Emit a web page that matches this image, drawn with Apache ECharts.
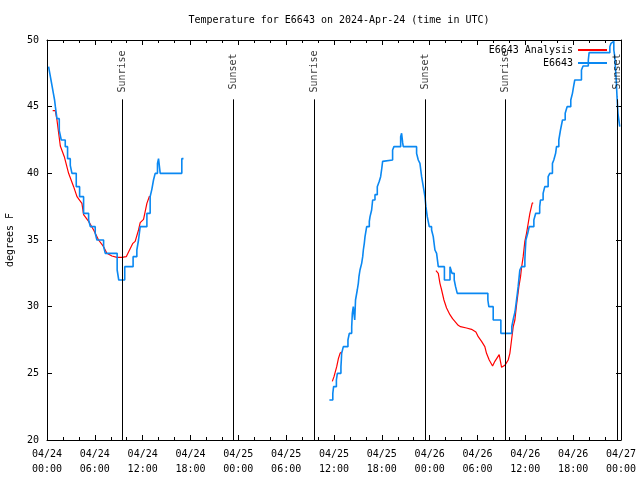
<!DOCTYPE html>
<html><head><meta charset="utf-8">
<script src="https://cdn.jsdelivr.net/npm/echarts@6/dist/echarts.min.js"></script>
<style>html,body{margin:0;padding:0;background:#fff}#c{width:640px;height:480px}</style>
</head><body><div id="c"></div>
<script>
// hours since 2024-04-24 00:00 UTC
const tickLabels = ['04/24\n00:00','04/24\n06:00','04/24\n12:00','04/24\n18:00','04/25\n00:00','04/25\n06:00','04/25\n12:00','04/25\n18:00','04/26\n00:00','04/26\n06:00','04/26\n12:00','04/26\n18:00','04/27\n00:00'];
const sunTimes = [9.44, 23.35, 33.5, 47.44, 57.47, 71.5];
const sunNames = ['Sunrise','Sunset','Sunrise','Sunset','Sunrise','Sunset'];
const analysisSeg1 = [[0.71,44.7],[1.04,44.7],[1.25,44.0],[1.67,42.05],[2.17,41.25],[2.71,40.0],[3.34,39.0],[3.76,38.25],[4.38,37.75],[4.59,36.9],[5.22,36.4],[5.85,35.75],[6.47,35.0],[7.1,34.5],[7.51,34.0],[8.14,33.8],[8.77,33.7],[9.4,33.7],[9.94,33.75],[10.23,34.1],[10.77,34.75],[11.06,34.9],[11.48,35.75],[11.69,36.3],[12.11,36.55],[12.53,37.75],[12.86,38.3]];
const analysisSeg2 = [[35.79,24.4],[36.0,24.75],[36.34,25.5],[36.55,26.1],[36.76,26.5],[36.96,26.6]];
const analysisSeg3 = [[48.79,32.7],[48.87,32.6],[49.08,32.5],[49.29,31.75],[49.5,31.25],[49.79,30.5],[50.12,29.9],[50.54,29.4],[50.87,29.1],[51.16,28.9],[51.58,28.6],[51.87,28.5],[52.62,28.4],[53.25,28.3],[53.8,28.1],[54.09,27.75],[54.51,27.4],[54.92,27.0],[55.13,26.5],[55.47,26.0],[55.89,25.55],[56.18,25.9],[56.72,26.4],[56.85,26.45],[57.02,25.45],[57.43,25.6],[57.85,26.0],[58.06,26.5],[58.27,27.5],[58.48,28.5],[58.69,29.0],[58.89,30.1],[59.19,31.5],[59.4,32.25],[59.52,32.9],[59.73,33.75],[59.94,34.9],[60.15,35.5],[60.36,36.25],[60.57,37.0],[60.86,37.75],[60.99,37.8]];
const obsSeg1 = [[0.2,48.0],[0.35,47.5],[0.5,47.0],[0.65,46.5],[0.8,46.0],[0.95,45.5],[1.05,45.0],[1.25,44.1],[1.54,43.2],[1.79,42.5],[2.29,42.0],[2.58,41.1],[2.92,40.6],[3.13,40.0],[3.67,39.0],[4.09,38.25],[4.59,37.0],[5.22,36.5],[5.43,36.0],[6.05,35.5],[6.26,35.0],[7.1,34.5],[7.31,34.0],[8.8,32.75],[9.0,32.0],[9.75,33.0],[10.8,33.75],[11.27,34.25],[11.48,35.0],[11.69,36.0],[12.53,37.0],[12.94,38.25],[13.15,38.8],[13.36,39.5],[13.57,40.0],[13.86,40.75],[13.99,41.1],[14.2,40.0],[16.91,41.1],[17.12,41.1]];
const obsSeg2 = [[35.42,23.0],[35.85,23.5],[35.95,24.0],[36.3,24.5],[36.42,25.0],[36.87,25.5],[36.92,26.0],[36.96,26.5],[37.17,27.0],[37.75,27.5],[37.92,28.0],[38.22,28.5],[38.3,29.5],[38.42,30.0],[38.5,29.5],[38.6,29.0],[38.7,30.5],[38.92,31.25],[39.05,31.75],[39.13,32.25],[39.26,32.75],[39.47,33.25],[39.6,33.75],[39.68,34.25],[39.8,34.75],[39.89,35.25],[40.1,36.0],[40.43,36.4],[40.52,36.75],[40.72,37.25],[40.85,38.0],[41.14,38.4],[41.43,39.0],[41.68,39.4],[41.85,39.75],[42.0,40.4],[42.1,40.9],[42.18,41.0],[43.35,41.75],[43.52,42.0],[44.36,42.75],[44.48,43.0],[44.61,42.3],[44.69,42.0],[46.36,41.5],[46.57,41.0],[46.78,40.75],[46.99,39.75],[47.2,39.0],[47.41,38.25],[47.53,37.5],[47.7,36.75],[47.95,36.0],[48.24,35.75],[48.45,35.25],[48.66,34.25],[48.87,34.0],[49.08,33.0],[49.85,32.0],[50.55,33.0],[50.8,32.5],[51.08,32.0],[51.25,31.5],[51.46,31.0],[55.3,30.5],[55.42,30.0],[55.97,29.0],[56.93,28.0],[58.3,28.5],[58.5,29.1],[58.7,29.6],[58.81,30.1],[59.0,31.0],[59.1,31.5],[59.31,32.75],[59.52,33.0],[59.94,33.5],[60.0,34.25],[60.07,35.0],[60.3,35.5],[60.49,36.0],[61.07,36.5],[61.3,37.0],[61.8,37.5],[61.9,38.0],[62.23,38.5],[62.44,39.0],[62.86,39.75],[63.07,40.0],[63.4,40.75],[63.57,41.0],[63.8,41.5],[63.91,42.0],[64.2,42.5],[64.41,43.25],[64.66,44.0],[65.0,44.5],[65.24,45.0],[65.7,45.5],[65.91,46.0],[66.05,46.5],[66.2,47.0],[67.04,47.75],[67.24,48.05],[67.9,48.5],[68.0,49.05],[70.6,49.5],[70.75,49.75],[70.93,49.9],[71.1,49.25],[71.22,48.75],[71.4,47.0],[71.5,45.75],[71.62,44.5],[71.84,43.5]];

const FONT = 'DejaVu Sans Mono';
const SUN_LINE_TOP = 45.55, SUN_LABEL_Y = 47.64;
// a gap marker placed at the last time of the preceding segment
const gapAfter = seg => [seg[seg.length - 1][0], null];
const analysis = [].concat(analysisSeg1, [gapAfter(analysisSeg1)], analysisSeg2, [gapAfter(analysisSeg2)], analysisSeg3);
const obs = [].concat(obsSeg1, [gapAfter(obsSeg1)], obsSeg2);

const axisCommon = {
  type: 'value', min: 0, max: 72, interval: 6,
  axisLine: {show: true, onZero: false, lineStyle: {color: '#000', width: 1}},
  axisTick: {show: true, inside: true, length: 5, lineStyle: {color: '#000'}},
  minorTick: {show: true, splitNumber: 3, length: 3, lineStyle: {color: '#000'}},
  splitLine: {show: false}
};
const yCommon = {
  type: 'value', min: 20, max: 50, interval: 5,
  axisLine: {show: true, onZero: false, lineStyle: {color: '#000', width: 1}},
  axisTick: {show: true, inside: true, length: 5, lineStyle: {color: '#000'}},
  splitLine: {show: false}
};

const chart = echarts.init(document.getElementById('c'), null, {renderer: 'canvas'});
chart.setOption({
  animation: false,
  backgroundColor: '#fff',
  textStyle: {fontFamily: FONT},
  title: {text: 'Temperature for E6643 on 2024-Apr-24 (time in UTC)', left: 334, top: 10, textAlign: 'center',
    textStyle: {fontFamily: FONT, fontSize: 10, fontWeight: 'normal', color: '#000'}},
  grid: {left: 47, right: 19, top: 40, bottom: 40, containLabel: false, outerBoundsMode: 'none'},
  legend: {data: ['E6643 Analysis', 'E6643'], orient: 'vertical', align: 'right', right: 28, top: 39,
    icon: 'rect', itemWidth: 29, itemHeight: 2, itemGap: 1,
    textStyle: {fontFamily: FONT, fontSize: 10, color: '#000', lineHeight: 12}},
  xAxis: [
    Object.assign({}, axisCommon, {position: 'bottom',
      axisLabel: {show: true, margin: 7, fontFamily: FONT, fontSize: 10, color: '#000', lineHeight: 15,
        showMinLabel: true, showMaxLabel: true,
        formatter: v => tickLabels[Math.round(v / 6)]}}),
    Object.assign({}, axisCommon, {position: 'top', axisLabel: {show: false}})
  ],
  yAxis: [
    Object.assign({}, yCommon, {position: 'left', name: 'degrees F', nameLocation: 'middle', nameGap: 32,
      nameTextStyle: {fontFamily: FONT, fontSize: 10, color: '#000'},
      axisLabel: {show: true, margin: 8, fontFamily: FONT, fontSize: 10, color: '#000'}}),
    Object.assign({}, yCommon, {position: 'right', axisLabel: {show: false}})
  ],
  series: [
    {name: 'E6643 Analysis', type: 'line', data: analysis, symbol: 'none', connectNulls: false,
      lineStyle: {color: '#ff0000', width: 1.2}, itemStyle: {color: '#ff0000'}, z: 3},
    {name: 'E6643', type: 'line', step: 'end', data: obs, symbol: 'none', connectNulls: false,
      lineStyle: {color: '#0a88f2', width: 1.6}, itemStyle: {color: '#0a88f2'}, z: 4},
    {name: 'sun', type: 'scatter', symbolSize: 0, silent: true, z: 5,
      data: sunTimes.map((t, i) => ({value: [t, SUN_LABEL_Y], name: sunNames[i]})),
      label: {show: true, position: 'inside', rotate: 90, formatter: '{b}', align: 'center', verticalAlign: 'middle',
        fontFamily: FONT, fontSize: 10, color: '#000'},
      markLine: {silent: true, symbol: ['none', 'none'], animation: false,
        lineStyle: {color: '#000', width: 1, type: 'solid'}, label: {show: false},
        data: sunTimes.map(t => [{coord: [t, SUN_LINE_TOP]}, {coord: [t, 20]}])}}
  ]
});
</script></body></html>
